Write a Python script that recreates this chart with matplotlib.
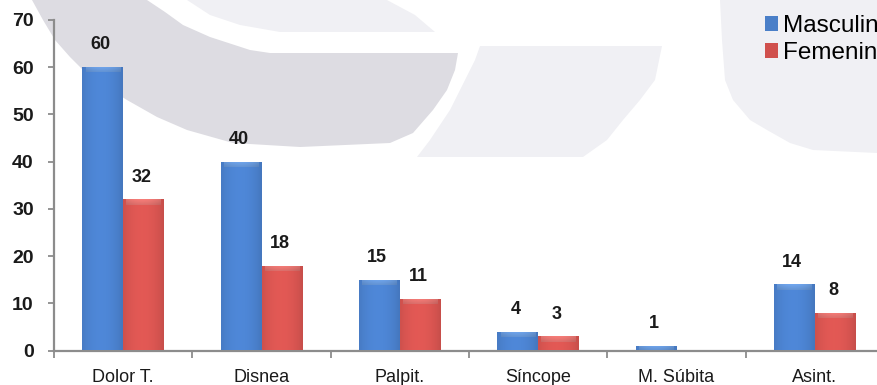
import numpy as np
import matplotlib.pyplot as plt
from matplotlib.patches import Polygon

plt.rcParams['font.family'] = ['Liberation Sans', 'DejaVu Sans']

categorias = ['Dolor T.', 'Disnea', 'Palpit.', 'Síncope', 'M. Súbita', 'Asint.']
masculino = [60, 40, 15, 4, 1, 14]
femenino = [32, 18, 11, 3, 0, 8]
series = ['Masculino', 'Femenino']

W, H = 877, 385
fig = plt.figure(figsize=(W / 100, H / 100), dpi=100)
fig.patch.set_facecolor('white')

# decorative watermark shapes behind the chart (pixel coords, y down)
bg = fig.add_axes([0, 0, 1, 1], zorder=0)
bg.set_xlim(0, W)
bg.set_ylim(H, 0)
bg.axis('off')
shapes = [
    ('#dddce2', [(147, 0), (165, 12), (183, 25), (210, 37), (250, 50), (270, 53),
                 (458, 53), (455, 70), (447, 90), (433, 110), (413, 133), (390, 143),
                 (300, 147), (233, 143), (187, 130), (157, 117), (127, 100), (90, 77),
                 (70, 57), (55, 40), (43, 20), (32, 0)]),
    ('#f0f0f4', [(187, 0), (210, 15), (240, 25), (280, 32), (435, 32), (415, 15), (387, 0)]),
    ('#f0f0f4', [(480, 46), (662, 46), (655, 80), (640, 100), (623, 120), (607, 140),
                 (583, 157), (417, 157), (430, 140), (450, 110), (465, 80), (475, 60)]),
    ('#f0f0f4', [(720, 0), (722, 40), (725, 80), (733, 100), (750, 120), (767, 130),
                 (790, 143), (813, 150), (877, 153), (877, 0)]),
]
for col, pts in shapes:
    bg.add_patch(Polygon(pts, closed=True, facecolor=col, edgecolor='none'))

ax = fig.add_axes([54 / W, (H - 350.5) / H, (884 - 54) / W, (350.5 - 20) / H], zorder=1)
ax.set_facecolor('none')

x = np.arange(len(categorias))
ancho = 0.295
b1 = ax.bar(x - ancho / 2, masculino, ancho, color='#4a7fc8', label=series[0], zorder=2)
b2 = ax.bar(x + ancho / 2, femenino, ancho, color='#d0504d', label=series[1], zorder=2)


def sombrear(barras, base, tapa):
    # horizontal shading plus a lighter bevel on top of each bar
    base = np.array(base) / 255.0
    tapa = np.array(tapa) / 255.0
    u = np.linspace(0, 1, 60)
    perfil = 0.80 + 0.26 * np.sin(np.pi * (0.15 + 0.75 * u)) ** 0.6
    img = np.clip(base[None, None, :] * perfil[None, :, None], 0, 1)
    img = np.repeat(img, 2, axis=0)
    for p in barras:
        h = p.get_height()
        if h <= 0:
            continue
        x0, w = p.get_x(), p.get_width()
        im = ax.imshow(img, extent=(x0, x0 + w, 0, h), aspect='auto',
                       interpolation='bicubic', zorder=3)
        im.set_clip_path(p)
        cap = min(1.1, h)
        v = np.linspace(0, 1, 20)
        capimg = np.clip(tapa[None, :] * (0.88 + 0.14 * v)[:, None], 0, 1)
        capimg = np.repeat(capimg[:, None, :], 60, axis=1)
        capimg = np.clip(capimg * perfil[None, :, None] / perfil.max() * 1.05, 0, 1)
        im2 = ax.imshow(capimg, extent=(x0 + w * 0.08, x0 + w * 0.92, h - cap, h),
                        aspect='auto', origin='lower', interpolation='bicubic',
                        alpha=0.85, zorder=4)
        im2.set_clip_path(p)


sombrear(b1, (74, 128, 204), (112, 162, 228))
sombrear(b2, (214, 84, 80), (236, 124, 120))

for barras, vals in ((b1, masculino), (b2, femenino)):
    for p, v in zip(barras, vals):
        if v == 0:
            continue
        ax.annotate(str(v), (p.get_x() + p.get_width() / 2 - 0.015, v),
                    xytext=(0, 16), textcoords='offset points', ha='center',
                    va='center', fontsize=13, fontweight='bold', color='#1a1a1a', zorder=5)

ax.set_xlim(-0.5, len(categorias) - 0.5)
ax.set_ylim(0, 70)
ax.set_yticks(range(0, 71, 10))
ax.tick_params(axis='y', length=4, width=1.3, color='#8c8c8c', pad=10.5,
               labelsize=14, labelcolor='#1a1a1a')
for t in ax.get_yticklabels():
    t.set_fontweight('bold')
ax.set_xticks(x)
ax.set_xticklabels(categorias)
ax.set_xticks(np.arange(-0.5, len(categorias)), minor=True)
ax.tick_params(axis='x', which='major', length=0, pad=13, labelsize=13, labelcolor='#1a1a1a')
ax.tick_params(axis='x', which='minor', length=5, width=1.3, color='#8c8c8c')

for s in ('top', 'right'):
    ax.spines[s].set_visible(False)
for s in ('left', 'bottom'):
    ax.spines[s].set_color('#8c8c8c')
    ax.spines[s].set_linewidth(1.6)

ax.legend(handles=[b1, b2], loc='upper left', bbox_to_anchor=(765 / W, 1 - 15 / H),
          bbox_transform=fig.transFigure, frameon=False, fontsize=17.5,
          handlelength=0.55, handleheight=0.55, handletextpad=0.2,
          borderpad=0, borderaxespad=0, labelspacing=0.22)

fig.savefig('out.png', dpi=100)
